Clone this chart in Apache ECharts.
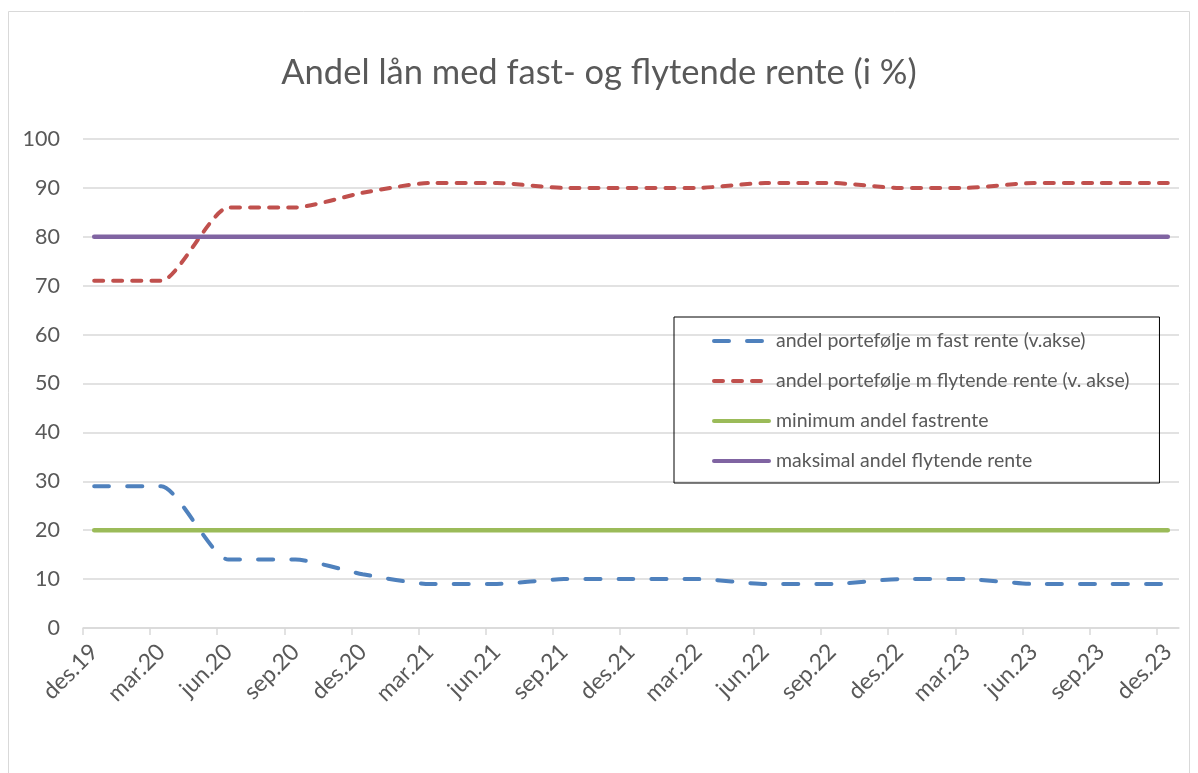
<!DOCTYPE html>
<html lang="no">
<head>
    <meta charset="UTF-8">
    <title>Andel lån med fast- og flytende rente</title>
    <style>
        html, body { margin: 0; padding: 0; background: #fff; }
        #main { width: 1198px; height: 773px; }
    </style>
</head>
<body>
    <div id="main"></div>
    <script src="https://cdn.jsdelivr.net/npm/echarts@6/dist/echarts.min.js"></script>
    <script>
        // kvartalsvise datapunkter (des.19 - des.23)
        var kvartaler = ["des.19", "mar.20", "jun.20", "sep.20", "des.20", "mar.21", "jun.21", "sep.21",
            "des.21", "mar.22", "jun.22", "sep.22", "des.22", "mar.23", "jun.23", "sep.23", "des.23"];
        var fastRente = [29, 29, 14, 14, 11, 9, 9, 10, 10, 10, 9, 9, 10, 10, 9, 9, 9];
        var flytendeRente = [71, 71, 86, 86, 89, 91, 91, 90, 90, 90, 91, 91, 90, 90, 91, 91, 91];
        var minFast = [20, 20, 20, 20, 20, 20, 20, 20, 20, 20, 20, 20, 20, 20, 20, 20, 20];
        var maksFlytende = [80, 80, 80, 80, 80, 80, 80, 80, 80, 80, 80, 80, 80, 80, 80, 80, 80];
        var yTicks = [0, 10, 20, 30, 40, 50, 60, 70, 80, 90, 100];

        // datoakse i måneder: hakk ved starten av hver kvartalsmåned, punkt midt i måneden
        var tickPos = kvartaler.map(function (k, i) { return i * 3; });
        var labelPos = kvartaler.map(function (k, i) { return i * 3 + 0.5; });
        function punkter(arr) {
            return arr.map(function (v, i) { return [i * 3 + 0.5, v]; });
        }

        var tekstFarge = "#595959";
        var font = "Lato";

        var myChart = echarts.init(document.getElementById("main"));
        var option = {
            backgroundColor: "#fff",
            animation: false,
            textStyle: { fontFamily: font },
            title: {
                text: "Andel lån med fast- og flytende rente (i %)",
                left: "center",
                top: 50,
                textStyle: {
                    color: tekstFarge,
                    fontSize: 34.5,
                    fontWeight: "normal",
                    fontFamily: font
                }
            },
            graphic: [{
                type: "rect",
                shape: { x: 8.5, y: 11.5, width: 1181, height: 800 },
                style: { fill: "none", stroke: "#d9d9d9", lineWidth: 1 },
                silent: true
            }],
            grid: {
                left: 83,
                right: 19,
                top: 139,
                bottom: 145
            },
            legend: {
                orient: "vertical",
                left: 674,
                top: 317,
                padding: [14, 30, 12, 38],
                itemGap: 20,
                itemWidth: 55,
                itemHeight: 14,
                borderColor: "#000",
                borderWidth: 1,
                itemStyle: { color: "transparent", borderColor: "transparent", borderWidth: 0, opacity: 0 },
                lineStyle: { width: 4 },
                textStyle: {
                    color: tekstFarge,
                    fontSize: 19.5,
                    fontFamily: font,
                    padding: [0, 0, 0, 2]
                }
            },
            xAxis: {
                type: "value",
                min: 0,
                max: kvartaler.length * 3 - 2,
                splitLine: { show: false },
                axisLine: {
                    show: true,
                    lineStyle: { color: "#d9d9d9", width: 1.5 }
                },
                axisTick: {
                    show: true,
                    length: 7,
                    customValues: tickPos,
                    lineStyle: { color: "#d9d9d9", width: 1.5 }
                },
                axisLabel: {
                    customValues: labelPos,
                    rotate: 45,
                    margin: 20,
                    color: tekstFarge,
                    fontSize: 23,
                    fontFamily: font,
                    formatter: function (v) {
                        return kvartaler[Math.round((v - 0.5) / 3)] || "";
                    }
                }
            },
            yAxis: {
                type: "value",
                min: yTicks[0],
                max: yTicks[yTicks.length - 1],
                interval: 10,
                axisLine: { show: false },
                axisTick: { show: false },
                splitLine: {
                    lineStyle: { color: "#d9d9d9", width: 1.5 }
                },
                axisLabel: {
                    margin: 23,
                    color: tekstFarge,
                    fontSize: 21.5,
                    fontFamily: font
                }
            },
            series: [{
                name: "andel portefølje m fast rente (v.akse)",
                type: "line",
                smooth: 0.2,
                symbol: "none",
                data: punkter(fastRente),
                lineStyle: { color: "#4f81bd", width: 4, type: [15, 18], cap: "round" },
                itemStyle: { color: "#4f81bd" }
            }, {
                name: "andel portefølje m flytende rente (v. akse)",
                type: "line",
                smooth: 0.2,
                symbol: "none",
                data: punkter(flytendeRente),
                lineStyle: { color: "#c0504d", width: 4, type: [9, 10], cap: "round" },
                itemStyle: { color: "#c0504d" }
            }, {
                name: "minimum andel fastrente",
                type: "line",
                symbol: "none",
                data: punkter(minFast),
                lineStyle: { color: "#9bbb59", width: 4.5, cap: "round" },
                itemStyle: { color: "#9bbb59" }
            }, {
                name: "maksimal andel flytende rente",
                type: "line",
                symbol: "none",
                data: punkter(maksFlytende),
                lineStyle: { color: "#8064a2", width: 4.5, cap: "round" },
                itemStyle: { color: "#8064a2" }
            }]
        };
        myChart.setOption(option);
    </script>
</body>
</html>
